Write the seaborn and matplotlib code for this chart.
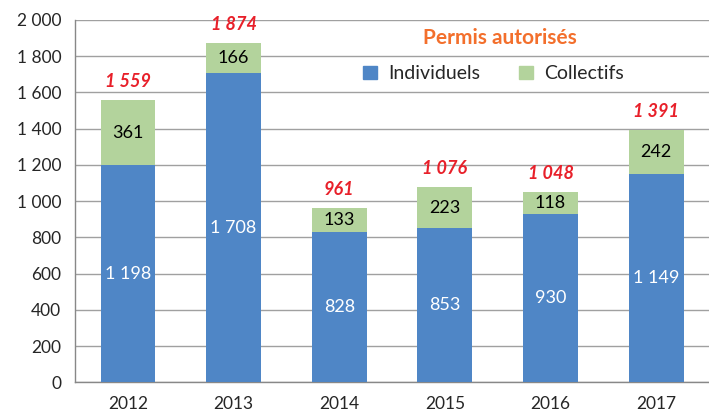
import pandas as pd
import numpy as np
import seaborn as sns
import matplotlib.pyplot as plt
from matplotlib.patches import Patch

years = ['2012', '2013', '2014', '2015', '2016', '2017']
individuels = [1198, 1708, 828, 853, 930, 1149]
collectifs = [361, 166, 133, 223, 118, 242]
totals = [a + b for a, b in zip(individuels, collectifs)]

blue = '#4F86C6'
green = '#B3D39C'
red = '#E8202A'
orange = '#F36F2C'


def fmt(v):
    return f'{v:,}'.replace(',', ' ')


df = pd.DataFrame({'Année': years, 'Individuels': individuels,
                   'Collectifs': collectifs, 'Total': totals})

sns.set_style('white')
plt.rcParams['font.family'] = ['Lato', 'DejaVu Sans']

fig = plt.figure(figsize=(7.09, 4.16), dpi=100)
ax = fig.add_axes([0.106, 0.081, 0.894, 0.871])

sns.barplot(data=df, x='Année', y='Total', color=green, width=0.52,
            saturation=1, linewidth=0, ax=ax, zorder=2)
sns.barplot(data=df, x='Année', y='Individuels', color=blue, width=0.52,
            saturation=1, linewidth=0, ax=ax, zorder=3)

for i in range(len(years)):
    ax.text(i, individuels[i] / 2, fmt(individuels[i]), ha='center', va='center',
            color='white', fontsize=13, zorder=4)
    ax.text(i, individuels[i] + collectifs[i] / 2, fmt(collectifs[i]), ha='center',
            va='center', color='black', fontsize=13, zorder=4)
    ax.text(i, totals[i] + 55, fmt(totals[i]), ha='center', va='bottom',
            color=red, fontsize=13, fontweight='bold', fontstyle='italic', zorder=4)

ax.set_ylim(0, 2000)
ax.set_xlim(-0.5, 5.5)
ax.set_yticks(np.arange(0, 2001, 200))
ax.set_yticklabels([fmt(v) for v in range(0, 2001, 200)], fontsize=12.5)
ax.set_xticklabels(years, fontsize=12.5)
ax.set_xticks(np.arange(-0.5, 6, 1), minor=True)
ax.tick_params(axis='x', which='major', length=0, pad=10)
ax.tick_params(axis='x', which='minor', length=6, color='#888888', direction='out')
ax.tick_params(axis='y', length=6, color='#888888', direction='out', pad=4)
ax.yaxis.grid(True, color='#A0A0A0', linewidth=1, zorder=0)
ax.set_axisbelow(True)
ax.set_xlabel('')
ax.set_ylabel('')
for s in ['top', 'right']:
    ax.spines[s].set_visible(False)
for s in ['left', 'bottom']:
    ax.spines[s].set_color('#888888')
    ax.spines[s].set_linewidth(1)

ax.text(0.67, 0.95, 'Permis autorisés', transform=ax.transAxes, ha='center',
        va='center', color=orange, fontsize=15, fontweight='bold')
handles = [Patch(color=blue, label='Individuels'), Patch(color=green, label='Collectifs')]
ax.legend(handles=handles, ncol=2, loc='center', bbox_to_anchor=(0.66, 0.851),
          frameon=False, fontsize=14, handlelength=0.7, handleheight=0.7,
          columnspacing=2.0, handletextpad=0.6, borderaxespad=0, borderpad=0)

fig.savefig('out.png', dpi=100)
